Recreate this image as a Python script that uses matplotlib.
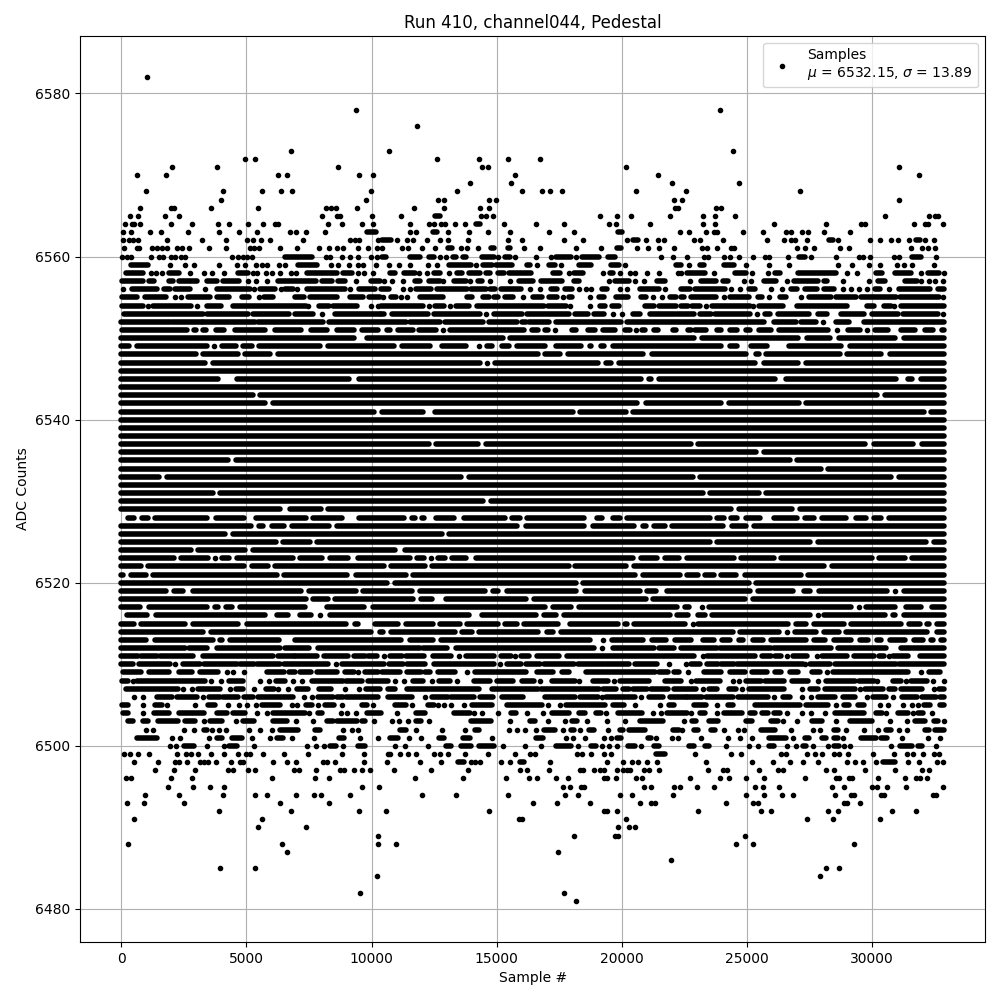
import matplotlib as mpl
mpl.use('Agg')
import matplotlib.pyplot as plt

# values. The core of this plot is too dense to read
# sample by sample, so a tuple (a, b) is a row of touching samples from a to b,
# a plain number is one isolated sample
top_rows = {
    6582: [1027],
    6578: [9387, 23933],
    6576: [11813],
    6573: [6787, 10693, 24453],
    6572: [4947, 5347, 12613, 14293, 15453, 16733],
    6571: [2027, 3827, 8667, 14413, 14653, 20173, 31093],
    6570: [627, 1787, 6267, 6627, 9507, 10067, 15733, 21453, 31893],
    6569: [13933, 15573, 22013, 24693],
    6568: [987, 4067, 5627, 6387, 6827, 9987, 13413, 16013, 16813, 17133, 17613, 20573, 22573, 27133],
    6567: [3987, 9787, 12653, 12893, 14693, 14973, 22093, 22413, 31093],
    6566: [747, 2000, 2107, 3587, 5467, 8187, 8387, 8560, 9427, 11693, 12893, 14333, 14693, 22133, 22267, 23773, 23973],
    6565: [347, 667, 1747, 2307, 8027, 8627, 8747, 10027, 11173, (12533, 12733), 14373, 14573, 14853, 19133, 19813,
           20373, 21933, 23253, 23733, 24533, 30533, 32293, 32533, 32653],
    6564: [147, 427, 493, 747, 1987, 2827, 3867, 4307, 5067, 5667, 6147, 6253, 8267, 8827, 9627, 10067, 11533, 12293,
           12493, 12773, 12933, 13333, 13733, (14173, 14333), 15293, 16573, 17693, 19493, 19773, 21133, 23253, 23733,
           26093, 28173, 29573, 29733, 31693, 32133, 32253, 32853],
    6563: [67, 387, 1147, 1587, 2667, 3907, 4707, 5427, 6747, 6987, 7387, 8147, (9827, 10160), 11533, 11773,
           (12453, 12613), 13053, 13893, 14653, 15533, 17093, 18093, (19853, 20013), 22333, 22693, 23373, 23693, 23813,
           24853, 25653, 26573, 26773, 27213, 27453, 28093, 29133],
    6562: [67, 307, 467, 667, 1813, 3227, 4187, 5027, 5267, 5587, 5947, 7267, 9147, 9347, 9507, 10267, (10413, 10773),
           11013, 11413, 11653, 12213, 12733, 13053, 13853, 15453, 16013, 17693, 18453, 20213, (20453, 20653), 20973,
           21453, 21693, 22893, 23133, 24053, 25813, 26493, 26773, 26933, 27413, (28293, 28453), 28653, 29933, 30333,
           30773, 31053, 31493, (31773, 31933), 32133, 32493],
    6561: [107, 627, 707, 1227, 1427, 1627, 1827, 2227, 2413, 2707, 3507, 4187, 5147, 5307, 5507, 6347, 7027, 7907, 8307,
           8627, 8867, 9467, 9867, 10227, 10413, 11213, 11453, 12013, 12533, (13053, 13213), 13573, 13813, 14253,
           (14773, 14893), (15453, 15533), 16093, 16733, 18173, 19173, (19813, 19973), 20613, 21053, 21493, 22093, 23213,
           23413, 23813, 24373, 24493, 27013, 27333, 27693, 28733, 29093, 31573, 32013, 32253, 32533],
    6560: [27, 227, 400, 1187, 1507, 1667, 1987, 2147, 2400, 2547, 4427, 4667, 4867, 5027, 5227, (6547, 7600), 8173, 8333,
           8827, 9147, 9467, 9987, 10227, (10413, 10573), (11533, 11933), (12293, 12493), 12733, 12973, (13253, 13373),
           (13653, 13773), (14413, 14893), 15053, (15333, 15533), 15733, 16573, 17173, (17373, 17973), 18173,
           (18413, 19093), (19453, 19733), 21573, 22053, 22613, 23293, 23453, 24093, 24333, 24693, 25253, 25733, 25893,
           26653, (27093, 27333), 27573, 28573, 29493, 29653, 29933, 30893, 31093, (31613, 31973), 32573],
    6559: [(400, 1067), 1947, 2547, 2907, 3907, 4627, 4947, 5400, 5600, 5800, 6307, 6547, (7067, 7800), 8387, 8667, 9107,
           9467, 9667, 10187, 10693, 11093, 11533, 12253, 12613, (13093, 13973), 14173, (14453, 14813), (14973, 15613),
           (16213, 16333), 16613, (17093, 17333), 17573, (18293, 18773), (19573, 19893), 20133, (22173, 22360), 22693,
           (23133, 23293), (24093, 24493), 24973, 25893, 26693, 28653, 29213, 29893, 30333, 31013, 31293, 31613, 32493],
}

upper_rows = {
    6558: [(200, 867), 1187, 1387, 1627, (1907, 2307), 2747, 3307, 3627, 4107, (4667, 5067), 5267, 5427, 5787, 6027, 6347,
           6787, 6973, (7427, 8627), (8867, 9200), 9467, 9700, 10067, (10733, 10933), (11293, 11733), 11893, 12213,
           (12493, 12733), 13093, (13413, 13613), (13893, 14333), (14573, 14733), (15053, 15293), (15493, 16373),
           (17253, 17533), 17893, (18093, 18453), 19253, (19533, 19653), 19933, 20333, 20533, 21013, 21493, 22253, 22360,
           (22613, 23333), 23693, (24533, 24973), 25213, 25853, (26133, 26333), (27053, 28573), 29013, 29413,
           (30173, 30413), (30933, 31573), 31973, (32253, 32693), 32880],
    6557: [(27, 867), (1107, 1307), (1907, 2067), (2307, 3027), (3427, 3827), (4067, 4707), 5067, 5387, 5827, (6267, 7787),
           (8027, 8427), (8667, 8947), 9387, (9987, 10333), 10493, 10813, 11253, (11733, 11933), (12293, 12733), 12853,
           (13293, 13773), 13933, (14253, 14413), 14733, 15533, (15893, 16453), (16773, 17613), (18093, 18293), 19493,
           (19733, 20293), 20533, 20893, (21413, 21733), 22733, (23173, 23773), (24053, 24253), 24893, 25173,
           (25693, 26173), 26613, (26893, 27853), (28093, 28213), 28853, 29893, (30253, 30533), (31333, 31813), 31973,
           32293, 32533, 32853],
    6556: [67, (427, 1427), (1707, 1947), (2147, 2747), 3347, (3827, 5147), 5307, (5547, 6147), 6387, (6547, 6867), 7027,
           (7427, 8947), 9147, (9507, 10147), (10360, 10693), 11253, 11533, (11773, 12360), (12613, 13813), (13973, 14573),
           (14733, 14933), (15173, 15973), 16333, 16720, (17173, 17413), (17733, 18013), 18293, 18573, 18773,
           (19213, 19413), 19933, 20213, (20733, 21493), 21733, (22360, 22747), (22920, 24133), 24373, 24733,
           (25093, 25333), 25973, 26413, (26773, 27013), (27333, 27813), (28093, 28493), 28853, 29173, 29493, 29813,
           (30133, 30333), 30693, (31093, 32333), (32653, 32880)],
    6555: [(27, 627), (947, 1787), 2147, 2387, (2667, 3547), (3827, 4307), (4827, 5107), 5507, (5707, 6067), (6947, 7307),
           (7547, 8627), (9147, 9667), (9907, 10333), 10453, (10773, 10973), 11173, 11413, (11933, 12853), (13813, 14013),
           (14453, 14693), (14893, 15053), (15333, 15653), 16053, (16453, 16813), (17093, 17413), 17653, (17893, 18013),
           18733, (19093, 19293), (19773, 20253), (20773, 20973), 21253, 21613, (21933, 22173), (22360, 22493),
           (22773, 23773), 24093, (24333, 25093), (25453, 25613), 25893, (26333, 26573), 27173, (27493, 28373),
           (28573, 29373), (29573, 30973), (31133, 32693), 32853],
    6554: [(27, 867), 1067, (1267, 2787), 3027, (3427, 3987), (4467, 7387), 7467, (7907, 8307), (8467, 9427), 9987, 10267,
           (10360, 12053), 12293, (12533, 12893), 13133, (13373, 13893), (14213, 16893), (17053, 17773), 17933, 18733,
           (19133, 19333), (19613, 19893), (20933, 21293), (21493, 22173), (22360, 22653), (22813, 23133), 23373,
           (23613, 25133), 25253, (25493, 26453), (27013, 29013), (29813, 30093), (30493, 30773), 30893, (31173, 32880)],
    6553: [(107, 3267), (3427, 5067), (5267, 6707), (6947, 7667), 8013, (8547, 10333), (10360, 10493), (10813, 12253),
           (12493, 14333), 14573, (14893, 16013), (16213, 17893), (18133, 18653), (18893, 19293), 19653, 20013,
           (20453, 20733), (21133, 22133), (22213, 22893), (23133, 23573), (23733, 25133), 25413, (25733, 25933),
           (26253, 27493), (27853, 28213), (28773, 29693), (30013, 31053), (31253, 32653), 32853],
    6552: [(0, 1933), (2027, 3227), (3267, 5347), (5467, 8067), (8307, 11373), (11533, 12733), (12933, 14453),
           (14693, 15813), (16013, 16173), (16293, 17093), (17373, 19973), (20213, 25693), (26093, 26973), (27173, 27773),
           28053, (28573, 29093), (29693, 32880)],
    6551: [(40, 2620), (2900, 3000), (3270, 3380), (3800, 4120), (4550, 5720), (6140, 7160), (7560, 8220), (8600, 9290),
           (9600, 10250), (10600, 10720), (11070, 11650), (11910, 12580), 12845, (13140, 16110), (16400, 16650),
           (16940, 17050), 17330, (18000, 18180), (18670, 18920), (19270, 19720), (20140, 20320), 20570, (20820, 20920),
           (21300, 21450), (22070, 22180), (22670, 22780), (22920, 23380), (23800, 23960), (24340, 24620), (24980, 25120),
           (25500, 25960), (26270, 28250), 28590, (29030, 29520), 29790, (30140, 30650), (31160, 31720), (32140, 32450),
           (32800, 32880)],
}

# rows that are solid from end to end apart from these gaps
core_gaps = {
    6550: [(9427, 9693), (15360, 15427), (23000, 23093), (27160, 27293), (28427, 28560), (31027, 31160)],
    6549: [(400, 493), (3520, 3600), (3800, 3893), (4693, 4760), (5320, 5400), (8067, 8160), (10997, 11093),
           (12427, 12693), (13893, 14200), (14400, 14493), (14933, 15093), (15600, 15693), (17027, 17253), (18493, 18627),
           (18893, 19053), (19400, 19533), (24093, 24227), (24733, 25053), (25933, 26067), (26293, 26560), (28893, 29027)],
    6548: [(3093, 3160), (4760, 4827), (6067, 6160), (16760, 16827), (17627, 17760), (20960, 21093), (25093, 25253),
           (25600, 25667), (28827, 28893), (30467, 30627)],
    6547: [(3453, 3533), (14427, 14520), (14733, 14827), (19160, 19253), (19693, 19800), (25427, 25587), (27160, 27240)],
    6546: [],
    6545: [(3987, 4160), (4387, 4493), (9227, 9400), (20867, 21000), (21293, 21400), (26253, 26453), (31093, 31320),
           (31720, 31853)],
    6544: [],
    6543: [(5360, 5427), (30333, 30400)],
    6542: [(5867, 5960), (20733, 20867), (24093, 24160), (27187, 27267)],
    6541: [(10227, 10293), (12160, 12427), (18160, 18227), (20293, 20360), (32200, 32253)],
    6540: [],
    6539: [],
    6538: [],
    6537: [(12387, 12453), (14360, 14453), (22893, 22960), (29827, 29987), (31760, 31893)],
    6536: [(25493, 25587)],
    6535: [(4360, 4467), (26827, 26893)],
    6534: [(28067, 28120)],
    6533: [(1600, 1693), (13693, 13787), (22960, 23027), (30893, 30960)],
    6532: [],
    6531: [(3760, 3827), (23360, 23427), (25587, 25640)],
    6530: [(14560, 14653)],
    6529: [(6467, 6627), (8093, 8160), (24467, 24560), (26920, 27000)],
    6528: [(0, 167), (600, 693), (1160, 1227), (3520, 3653), (5000, 5267), (7493, 7560), (8920, 9400), (11400, 11493),
           (11827, 11920), (12200, 12467), (13400, 13587), (15427, 15493), (16027, 16120), (18600, 18920), (19320, 19533),
           (20027, 20093), (23627, 23693), (24200, 24253), (24733, 24867), (25627, 25960), (27133, 27200), (27800, 27893),
           (29093, 29253), (29893, 29960), (30493, 30560)],
    6527: [(5293, 5373), (5787, 5893), (6627, 6720), (8427, 8493), (15933, 16067), (18600, 18733), (20600, 20760),
           (21093, 21187), (21827, 21920), (24160, 24293), (25093, 25160)],
    6526: [(4253, 4360), (12920, 12987)],
    6525: [(6293, 6360), (7640, 7693), (23627, 23693), (27627, 27720), (32293, 32360)],
    6524: [(2893, 2960), (5053, 5160), (11060, 11227)],
    6523: [(2200, 2253), (3560, 3627), (3827, 3893), (4400, 4493), (6960, 7027), (8133, 8227), (9187, 9360), (11627, 11693),
           (12187, 12280), (12493, 12560), (13027, 13093), (13893, 14053), (20560, 20653), (21533, 21627), (22387, 22493),
           (24600, 24653), (26200, 26253), (30120, 30173), (31427, 31493)],
    6522: [(893, 960), (5000, 5093), (5960, 6013), (10600, 10653), (12227, 12293), (17987, 18040), (20293, 20387),
           (28200, 28280)],
    6521: [(160, 267), (1093, 1160), (6320, 6400), (9133, 9253), (11493, 11560), (20627, 20733), (22427, 22493),
           (23160, 23227), (23800, 23853), (24693, 24800), (27267, 27320)],
    6520: [(10733, 10827), (18293, 18360), (25200, 25253)],
    6519: [(1893, 1987), (2560, 2733), (7293, 7387), (9493, 9560), (11733, 11827), (14653, 14733), (15160, 15293),
           (18293, 18427), (20827, 20920), (21493, 21693), (25240, 25320), (26973, 27160), (27640, 27760), (30733, 30827),
           (31027, 31187)],
    6518: [(7493, 7560), (8360, 8427), (11760, 11867), (12520, 12853), (16293, 16387), (21093, 21160), (25027, 25133)],
    6517: [(867, 1000), (3520, 3627), (3960, 4067), (4520, 4627), (7453, 8093), (9800, 9933), (17027, 17160), (18093, 18200),
           (22333, 22427), (22787, 23093), (23293, 23373), (29293, 29387), (29560, 29653), (31053, 31267), (32067, 32293)],
    6516: [(0, 120), (1120, 1253), (5853, 6120), (6760, 7027), (7693, 7827), (7987, 8227), (13987, 14293), (16693, 16787),
           (17493, 17600), (22027, 22120), (22760, 22960), (23427, 23493), (27627, 27720), (27893, 27960), (30653, 30733),
           (31053, 31160)],
    6515: [(600, 667), (2653, 2733), (4787, 4893), (9093, 9227), (9560, 10027), (11160, 11267), (12560, 12627),
           (13627, 13693), (15160, 15227), (15933, 15987), (17560, 17827), (19960, 20027), (20333, 20387), (22627, 22733),
           (22867, 22960), (26760, 26853), (27493, 27560), (28987, 29040), (31293, 31360), (32027, 32093), (32387, 32493)],
    6514: [(3360, 3453), (10093, 10227), (10560, 10653), (13427, 13493), (14120, 14200), (16760, 16893), (17360, 17453),
           (24560, 24627), (26387, 26493), (26693, 26827), (27893, 27960), (28787, 28867), (32333, 32493)],
    6513: [(1093, 1227), (3760, 3827), (4120, 4227), (6427, 6827), (11267, 11427), (12560, 12653), (18827, 19160),
           (19360, 19493), (20960, 21093), (21893, 22027), (22893, 23160), (23800, 23893), (24427, 24560), (24960, 25133),
           (25760, 25853), (27493, 27587), (28227, 28360), (29293, 29400), (29960, 30093), (30493, 30627), (31427, 31560),
           (32160, 32253), (32560, 32653)],
}

lower_rows = {
    6512: [(0, 2547), (2707, 3427), (3827, 6347), (6547, 7507), (7867, 11933), (12053, 13013), (13373, 18893), 19213,
           (19653, 21293), (21493, 22093), (22360, 23813), (23933, 25973), (26093, 27213), (27293, 28373), (28653, 30573),
           (31173, 31573), (31653, 32880)],
    6511: [(0, 667), (787, 1427), (1547, 1907), (1987, 2867), (3267, 6067), (6267, 6907), (6947, 7827), (8107, 9067),
           (9307, 9747), (9867, 10227), 10493, (10733, 11213), (11373, 12093), (12453, 13173), 13493, (13773, 14893),
           (15173, 15573), 15733, (15973, 16293), (16613, 17493), (17813, 21533), (21613, 22893), 23253, (23413, 25333),
           (25613, 25973), (26133, 26373), 26613, (26853, 27413), 27813, (28013, 29013), (29293, 30093), (30293, 30493),
           30693, (30853, 31453), (31933, 32880)],
    6510: [(0, 467), (707, 1947), 2147, (2467, 3147), (3307, 4627), (4747, 5307), (5427, 6347), (6507, 8267), 8587,
           (8827, 10027), (10107, 10493), (10693, 11253), (11413, 12133), (12493, 14893), 15133, (15413, 15973),
           (16173, 16733), (16893, 18093), (18253, 19293), (19373, 20293), (20533, 21413), 21893, 22573, (22773, 23133),
           (23413, 23853), (23960, 24493), (24627, 27253), 27333, (27533, 28333), (28533, 30973), (31093, 32880)],
    6509: [(67, 787), (1107, 1907), (2307, 2827), (3147, 3867), 4227, 4467, 4907, (5827, 6507), (6707, 6947), (7147, 7587),
           (7827, 8627), (8947, 9307), 9467, (9747, 10267), (10427, 11133), (11413, 11973), (12133, 12333), (12653, 13333),
           13813, (14133, 14893), (14973, 16173), (16613, 17253), (17613, 17893), (18573, 21333), (21493, 21853),
           (22093, 22293), 22640, (23293, 23973), (24333, 24933), (25213, 25813), (26133, 26373), (26733, 27053),
           (27613, 27933), 28213, (28453, 31453), 31973, (32293, 32733)],
    6508: [(27, 267), 467, (627, 2227), (2307, 3347), 3587, 3987, (4307, 4867), 5547, 5907, (6187, 6547), 6867, 7227,
           (7627, 8867), (8987, 9627), (9867, 10653), 10933, 11293, (11653, 12053), 12413, (12693, 13133), 13413,
           (14093, 14733), (15013, 15653), (16013, 16493), 16733, (17213, 18133), 18293, (18853, 19453), 19693,
           (19933, 21093), (21733, 22360), 22773, (22973, 23933), 24453, 24693, (24973, 25573), (25733, 26493),
           (26813, 27453), 27853, (28173, 29333), (29493, 30093), 30213, (30853, 31173), 31373, (31573, 32213), 32453, 32880],
    6507: [(187, 2267), 2467, 2827, (3067, 3947), 4347, (4587, 4867), 5307, (5787, 6107), 6267, 6667, (7027, 7467),
           (7907, 8387), 8947, 9507, (9787, 10333), (10653, 10933), (11427, 14293), (14813, 16653), (16773, 19093),
           (19253, 19773), (20053, 20293), (20453, 21013), (21173, 21853), (22093, 22973), 23253, (23493, 23813),
           (24293, 24573), 24813, (25093, 26493), 27213, (27533, 27853), (28133, 29333), 29533, (29733, 30453),
           (30693, 30933), (31173, 32013), 32493, (32693, 32880)],
    6506: [507, 867, (1440, 2027), (2227, 3027), 3267, (3507, 3947), (4067, 4667), (4907, 5267), (5467, 6867), 7307, 7627,
           (7867, 8467), (8627, 8867), (8987, 10267), (10653, 11613), 12133, (12413, 13053), (13187, 14093), (14333, 14853),
           (15213, 16053), (16933, 18133), (18333, 19053), 19213, (19373, 20533), 20773, (21093, 21653), (21933, 22573),
           (22613, 23213), (23373, 24453), (24653, 25853), 26093, (26453, 26733), 27213, 27573, (27853, 28533),
           (28853, 29333), 29813, (30053, 30573), 30853, (31213, 31813), (32013, 32573), (32733, 32880)],
    6505: [(27, 267), 867, (1347, 1627), 1827, 2947, (3467, 3747), 4267, 4707, 5027, 5387, (5627, 6347), 6827, 7027,
           (7387, 7627), 7867, (8147, 8507), 8827, (9627, 9827), 10067, (10933, 11373), 11613, (12253, 12493), 12653, 12893,
           13173, 13693, (14013, 14813), (15413, 16813), 17053, 17533, (17773, 19333), (19653, 20093), 20533, 21533,
           (21893, 22093), (22893, 23373), 23813, (24253, 24453), (25333, 27133), (27373, 28253), 28573, (28893, 29093),
           (29453, 29693), 30333, 30653, 31253, 31613, 31853, (32093, 32333), (32733, 32880)],
    6504: [(67, 267), 867, (1307, 1907), (2307, 3307), (3827, 4227), (4467, 4947), 5427, 5827, (6067, 7347), 7507,
           (7867, 8027), 8787, 9027, 9387, (9827, 10360), 11013, (11773, 12133), (13293, 13933), 14093, 14413, 15053,
           (15573, 15773), 16213, 16853, (17213, 17893), (18293, 18533), (18973, 19173), 19373, (19853, 20813), 21253, 21573,
           (21813, 22613), 22773, (23133, 23333), 23813, (24093, 24813), (25133, 25333), (25613, 25853), (26093, 26333),
           26613, 27213, 27573, 28133, (28533, 29667), (30173, 30413), 30573, (31053, 31453), 31653, (31853, 32053), 32413],
    6503: [(267, 467), (867, 1067), (1467, 2267), (2547, 2947), 3307, (3547, 4027), 4587, (4867, 5307), (6067, 6627), 6987,
           7667, (8227, 8467), (8627, 9427), (9627, 9747), 10107, 10813, 11093, 11453, (11773, 11973), 12293, (13973, 14773),
           15533, (16333, 16533), 17053, 17733, (18013, 18213), 18613, 19413, 20133, (20733, 21653), 22493, (22813, 22973),
           (23493, 23853), (24973, 25213), (25973, 26253), 26453, 27013, (27613, 28013), 28573, (29133, 30013), 30733, 31413,
           (31733, 32133), (32493, 32653), 32880],
    6502: [987, 1267, 2507, 2907, (3307, 3427), 3627, 3907, 4187, 5107, 5547, 6027, (6347, 7067), (7747, 7947), 8867, 9227,
           9467, (11133, 11373), 11773, 12813, 13733, (14133, 14293), 15493, 15813, 16133, 16573, (16893, 17333), 17653,
           (17973, 18093), 18333, (18693, 18893), 19453, (19933, 20053), (20293, 20933), (22053, 22293), 22413,
           (22893, 23053), (23573, 23733), 24093, 24653, 24893, (25573, 26133), 26773, 27653, 27933, (28493, 28653), 28973,
           29693, 30253, (30573, 30773), 31093, 31413, (32133, 32293), (32533, 32880)],
    6501: [(627, 1427), 2027, 2347, 3507, (3827, 4027), (4427, 4827), 5227, 5947, (6227, 6467), 6827, 7707, (8707, 8907),
           9547, 10267, (10733, 11053), 11493, 11973, (12693, 12893), (13653, 13933), 14813, (16573, 16853), 17773, 18053,
           18533, 19293, 19573, (19813, 19973), (21053, 21173), 21373, 22013, 22253, 23173, 24253, 24733, 25213,
           (25893, 26573), 26853, (27333, 27493), (28013, 28173), (28493, 28653), 28853, (29573, 30173), (30373, 30613), 31213,
           32253, 32733],
    6500: [1947, 2187, (2507, 2907), 3427, 4107, (4307, 4627), 5307, 7427, 7787, 8107, (8347, 8587), 8867, (9467, 9747),
           10920, 11333, 12253, (12973, 13173), (13573, 13973), (14293, 14893), 15253, 16133, 16760, (17373, 17973), 18253,
           (18773, 18973), 19213, 19480, 19813, (20253, 20533), 20773, (21293, 21493), (22693, 22893), (23333, 23493), 24173,
           25093, 25453, (25893, 26093), 26613, 26973, (27253, 27373), 27653, 28253, (28493, 28693), 28893, 29133, 30773,
           (31133, 31613), (31853, 32013), 32573],
}

bottom_rows = {
    6499: [120, 347, 653, 1107, 2227, 2587, 2800, 3067, 3587, 4107, 4667, 4987, 5147, 5667, 6507, 7467, 8827, 9707, 10653,
           10733, 11133, 11453, 11773, 12493, 12733, 13053, 13733, 14653, 15733, 16333, 16533, 18213, 18427, 18773, 19293,
           19560, (21373, 21733), 22933, 24373, 24773, 26373, 26573, 27413, 27733, 28013, 28493, 28693, 29053, 30053, 30893,
           31413, 31653, 32053, 32493, 32693],
    6498: [507, 1467, 2147, 2307, 2627, 3147, 3307, 3467, 3787, 4387, 4747, 4867, 6067, 6627, 6987, 8067, 8227, 8547, 9707,
           10613, 11933, 12773, (13453, 13693), 13973, 14133, 14333, 15173, 15533, (15933, 16093), 17133, 19413, 20053, 20413,
           20653, 21013, 21413, 23373, 25213, 26053, 26733, 27253, 27853, 29013, 29333, 29653, 30173, (30453, 30933), 31440,
           31893, 32613, 32853],
    6497: [1347, 2107, 2947, 4267, 4467, 5067, 5347, 6907, 7107, 7787, 8747, 8907, 9307, 9627, 9947, 10893, 12373, 13853,
           15933, 16213, 17093, 18333, 18453, 18893, 19133, 19293, 19813, 20053, 20213, 20333, 20893, 21093, 21493, 23453,
           24053, 24213, 25493, 26253, 26453, 28173, 28493, 29733, 30933, 32013, 32293],
    6496: [187, 387, 1987, 2827, 6027, 7747, 8307, 11733, 13653, 15373, 16293, 16613, 17373, 17853, 19293, 19427, 19773,
           20573, 20813, 22733, 23933, 24293, 24973, 25693, 27333, 28573, 28693, 29093, 29213, 30253, 31333, 31773, 31933,
           32213],
    6495: [1867, 2867, 3547, 4107, 9627, 10307, 17653, 17933, 18373, 18493, 20893, 21173, 22093, 22333, 23013, 23693, 25333,
           25653, 26293, 28413, 28893, 30013, 30213, 30613, 31373, 32853],
    6494: [947, 2307, 4067, 5347, 5827, 6987, 7707, 7987, 9147, 12013, 13373, 15453, 17733, 18253, 19933, 20413, 22053,
           24973, 25693, 26413, 26853, 28533, 29173, 29293, 30373, 30493, 32453, 32573],
    6493: [227, 907, 2507, 6347, 8307, 16453, 17413, 18733, 20733, 21173, 21333, 24173, 25253, 25453, 28893, 29013, 29533],
    6492: [3907, 6787, 9507, 10573, 14693, 19293, 19427, 19813, 23053, 25573, 25973, 28253, 28653, 30813, 31773],
    6491: [507, 5627, 15893, 16027, 20173, 27413, 28453, 30333],
    6490: [5467, 7387, 19853, 20293, 20533],
    6489: [10253, 18093, 19733, 19853, 24933],
    6488: [267, 6427, 10253, 10973, 24573, 25253, 29293],
    6487: [6627, 17453],
    6486: [21973],
    6485: [3947, 5347, 28173, 28693],
    6484: [10227, 27933],
    6482: [9547, 17693],
    6481: [18173],
}

title = 'Run 410, channel044, Pedestal'
legend_text = 'Samples\n$\\mu$ = 6532.15, $\\sigma$ = 13.89'
last_sample = 32880
dot_radius = 110  # half a marker width, in samples

# solid rows: turn the gaps into spans of sample centres
rows = {}
for level, gaps in core_gaps.items():
    spans = []
    start = 0
    for a, b in gaps:
        if a > start:
            spans.append((start, a - dot_radius))
        start = b + dot_radius
    spans.append((start, last_sample))
    rows[level] = spans
for group in (top_rows, upper_rows, lower_rows, bottom_rows):
    rows.update(group)

dots_x, dots_y = [], []
span_y, span_start, span_end = [], [], []
for level, items in rows.items():
    for item in items:
        if isinstance(item, tuple) and item[1] > item[0]:
            span_y.append(level)
            span_start.append(item[0])
            span_end.append(item[1])
        else:
            dots_x.append(item[0] if isinstance(item, tuple) else item)
            dots_y.append(level)

fig, ax = plt.subplots(figsize=(10, 10))
ax.plot(dots_x, dots_y, 'k.', label=legend_text)
ax.hlines(span_y, span_start, span_end, colors='k', linewidth=4, capstyle='round')
ax.set_title(title)
ax.set_xlabel('Sample #')
ax.set_ylabel('ADC Counts')
ax.grid(True)
ax.legend(loc='upper right')
fig.subplots_adjust(left=0.0803, right=0.985, bottom=0.058, top=0.964)
fig.savefig('out.png', dpi=100)
plt.close()
